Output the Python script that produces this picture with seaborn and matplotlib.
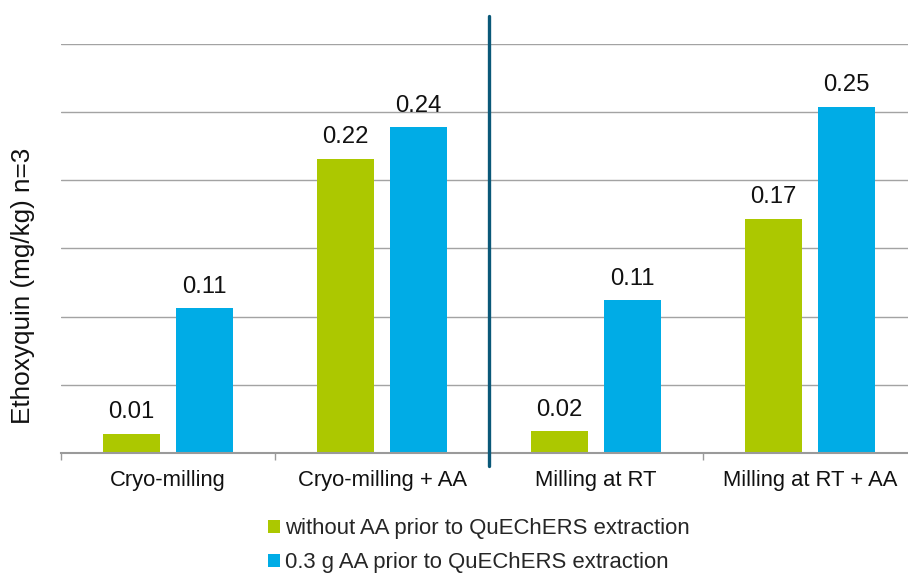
import numpy as np
import pandas as pd
import matplotlib
matplotlib.use("Agg")
import matplotlib.pyplot as plt
import seaborn as sns

# Ethoxyquin found after each milling procedure (mg/kg, n=3)
categories = ["Cryo-milling", "Cryo-milling + AA", "Milling at RT", "Milling at RT + AA"]
series_names = ["without AA prior to QuEChERS extraction",
                "0.3 g AA prior to QuEChERS extraction"]
without_aa = [0.014, 0.216, 0.016, 0.172]
with_aa = [0.106, 0.239, 0.112, 0.254]
y_label = "Ethoxyquin (mg/kg) n=3"

GREEN = "#ACC800"
BLUE = "#00ACE6"
GRID = "#A3A3A3"
DIVIDER = "#0A5878"

df = pd.DataFrame({
    "method": categories * 2,
    "treatment": [series_names[0]] * 4 + [series_names[1]] * 4,
    "value": without_aa + with_aa,
})

sns.set_theme(style="white")
plt.rcParams["font.family"] = ["Liberation Sans", "DejaVu Sans"]

W, H = 908, 574
fig = plt.figure(figsize=(W / 100, H / 100), dpi=100)

# plot area: left edge at x=61, baseline at y=453, top gridline at y=44
left = 61 / W
bottom = 1 - 453 / H
height = (453 - 44) / H
width = (917 - 61) / W
ax = fig.add_axes([left, bottom, width, height])

sns.barplot(data=df, x="method", y="value", hue="treatment",
            order=categories, hue_order=series_names,
            palette={series_names[0]: GREEN, series_names[1]: BLUE},
            width=0.684, gap=0.227, linewidth=0, saturation=1,
            errorbar=None, ax=ax)

ax.set_xlim(-0.5, len(categories) - 0.5)
ax.set_ylim(0, 0.30)
ax.set_yticks(np.arange(0, 0.301, 0.05))
ax.tick_params(axis="y", left=False, labelleft=False)
ax.grid(axis="y", color=GRID, linewidth=1.0)
ax.set_axisbelow(True)
for side in ["left", "right", "top"]:
    ax.spines[side].set_visible(False)
ax.spines["bottom"].set_color("#9A9A9A")
ax.spines["bottom"].set_linewidth(1.5)

# category labels centred, tick marks on the group boundaries
ax.set_xticks(range(len(categories)))
ax.set_xticklabels(categories, fontsize=15.8, color="#111111")
ax.tick_params(axis="x", which="major", length=0, pad=12.5)
ax.set_xticks(np.arange(-0.5, len(categories), 1.0), minor=True)
ax.tick_params(axis="x", which="minor", length=5, width=1.0, color="#9A9A9A",
               direction="out", bottom=True)
ax.set_xlabel("")
ax.set_ylabel("")

# value labels above each bar
for container, vals in zip(ax.containers, [without_aa, with_aa]):
    for patch, v in zip(container.patches, vals):
        ax.annotate(f"{v:.2f}", (patch.get_x() + patch.get_width() / 2, v),
                    xytext=(0, 11.2), textcoords="offset points",
                    ha="center", va="baseline", fontsize=17.2, color="#111111")

# vertical separator between cryo-milling and room-temperature milling
ax.axvline(1.5, ymin=(453 - 466) / 409, ymax=(453 - 16) / 409,
           color=DIVIDER, linewidth=2.4, clip_on=False, zorder=5)

fig.text(23 / W, 1 - 285.5 / H, y_label, rotation=90, ha="center", va="center",
         fontsize=18.8, color="#111111")

sns.move_legend(ax, "upper left", bbox_to_anchor=(268 / W, 1 - 518 / H),
                bbox_transform=fig.transFigure, title=None, frameon=False,
                fontsize=15.9, handlelength=0.54, handleheight=0.54,
                handletextpad=0.25, labelspacing=0.6, borderpad=0,
                borderaxespad=0)

fig.savefig("out.png", dpi=100)
